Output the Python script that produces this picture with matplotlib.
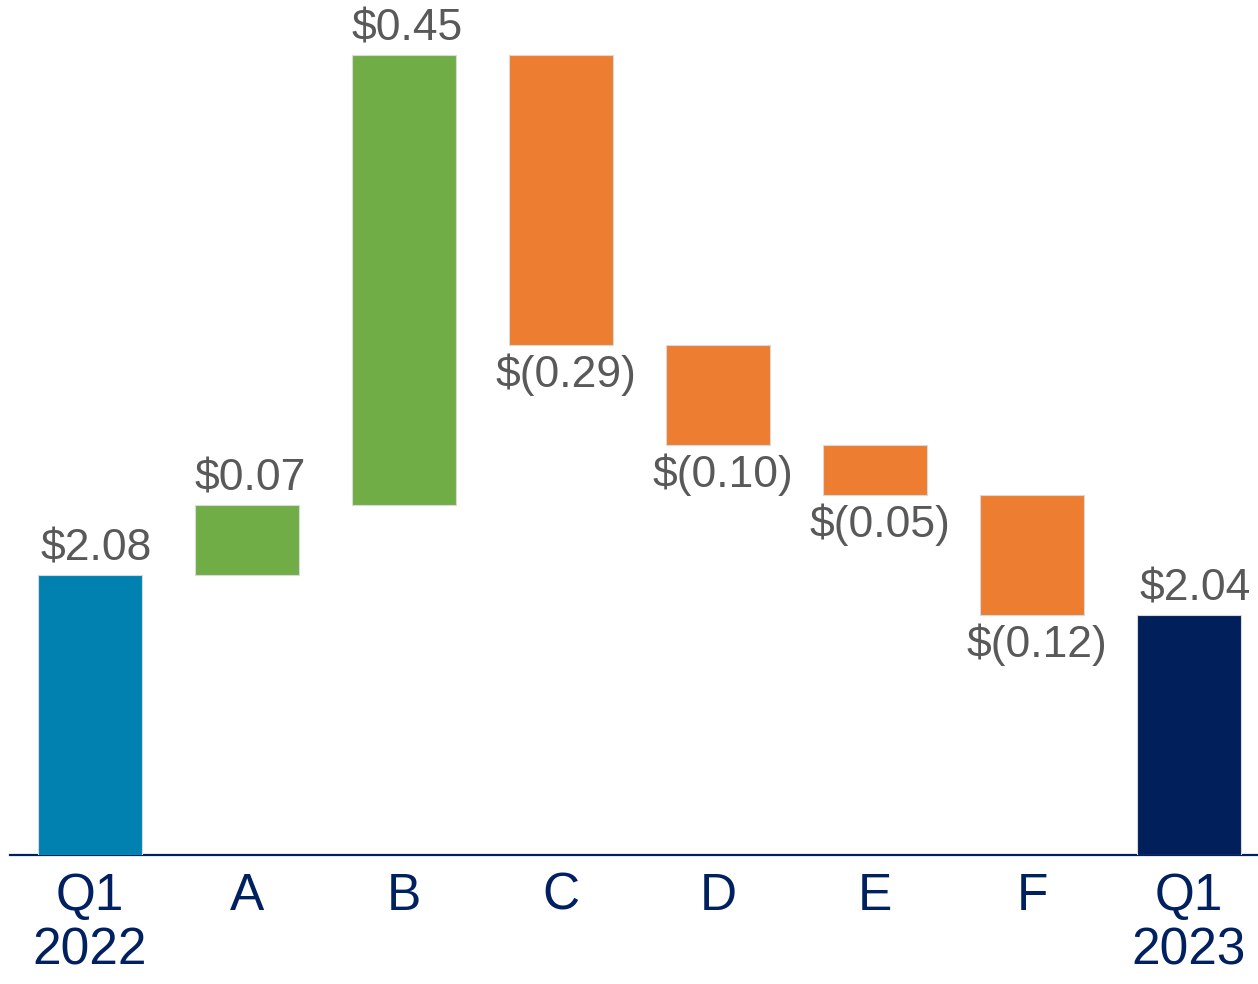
import matplotlib
matplotlib.use('Agg')
import matplotlib.pyplot as plt

# data
categories = ['Q1\n2022', 'A', 'B', 'C', 'D', 'E', 'F', 'Q1\n2023']
start_value = 2.08
changes = [0.07, 0.45, -0.29, -0.10, -0.05, -0.12]
end_value = 2.04
labels = ['$2.08', '$0.07', '$0.45', '$(0.29)', '$(0.10)', '$(0.05)', '$(0.12)', '$2.04']

y_floor = 1.80

plt.rcParams['font.family'] = ['Liberation Sans', 'DejaVu Sans']

fig = plt.figure(figsize=(12.58, 9.84), dpi=100)
ax = fig.add_axes([0.008, 0.131, 0.992, 0.869])

width = 0.66
edge = '#d9d9d9'
gray = '#595959'
navy = '#002060'
lab_size = 32

# first total
ax.bar(0, start_value - y_floor, bottom=y_floor, width=width, color='#0081B0',
       edgecolor=edge, linewidth=0.8, zorder=2)
ax.text(0.04, start_value + 0.006, labels[0], ha='center', va='bottom',
        fontsize=lab_size, color=gray)

running = start_value
for i, ch in enumerate(changes, start=1):
    bottom = running if ch > 0 else running + ch
    color = '#70AD47' if ch > 0 else '#ED7D31'
    ax.bar(i, abs(ch), bottom=bottom, width=width, color=color,
           edgecolor=edge, linewidth=0.8, zorder=2)
    if ch > 0:
        ax.text(i + 0.02, running + ch + 0.006, labels[i], ha='center', va='bottom',
                fontsize=lab_size, color=gray)
    else:
        ax.text(i + 0.03, running + ch - 0.008, labels[i], ha='center', va='top',
                fontsize=lab_size, color=gray)
    running += ch

# last total
n = len(categories) - 1
ax.bar(n, end_value - y_floor, bottom=y_floor, width=width, color='#001F5B',
       edgecolor=edge, linewidth=0.8, zorder=2)
ax.text(n + 0.04, end_value + 0.006, labels[-1], ha='center', va='bottom',
        fontsize=lab_size, color=gray)

ax.set_xlim(-0.51, 7.44)
ax.set_ylim(y_floor, y_floor + 0.855)
ax.set_xticks(range(len(categories)))
ax.set_xticklabels(categories, fontsize=37, color=navy, linespacing=1.15)
ax.tick_params(axis='x', length=0, pad=12)
ax.set_yticks([])
for s in ['top', 'right', 'left']:
    ax.spines[s].set_visible(False)
ax.spines['bottom'].set_color(navy)
ax.spines['bottom'].set_linewidth(1.6)
ax.spines['bottom'].set_zorder(1)

fig.savefig('out.png', dpi=100)
